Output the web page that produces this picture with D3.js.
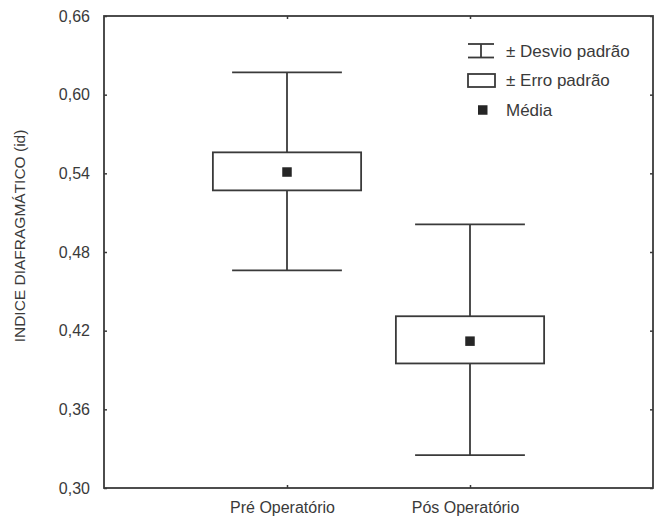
<html>
<script src='https://d3js.org/d3.v7.min.js'></script>
<style>
body {margin:0; background:#fff;}
text {font-family: 'Liberation Sans', Arial, sans-serif; fill:#3a3a3a;}
.frame, .whisker, .box {fill:none; stroke:#3a3a3a; stroke-width:1.8;}
.box {fill:#fff;}
.mean {fill:#262626;}
.axis path {display:none;}
.axis line {stroke:#3a3a3a; stroke-width:1.5;}
</style>
<body onload='init()'>
<svg width=662 height=516></svg>
<script>
const categories = ['Pré Operatório', 'Pós Operatório'];
const means  = [0.541, 0.412];
const seLow  = [0.527, 0.395];
const seHigh = [0.556, 0.431];
const sdLow  = [0.466, 0.325];
const sdHigh = [0.617, 0.501];
const yTicks = [0.30, 0.36, 0.42, 0.48, 0.54, 0.60, 0.66];
const legendLabels = ['± Desvio padrão', '± Erro padrão', 'Média'];

function init() {
var margin = {top:16, right:9, bottom:28, left:104};
var w = 662 - margin.left - margin.right;
var h = 516 - margin.top - margin.bottom;

var xs = d3.scalePoint().domain(categories).range([0,w]).padding(1);
var ys = d3.scaleLinear().domain([0.30,0.66]).range([h,0]);
var fmt = function(d) { return d3.format('.2f')(d).replace('.', ','); };

var data = categories.map(function(c,i) {
  return {cat:c, mean:means[i], seLow:seLow[i], seHigh:seHigh[i], sdLow:sdLow[i], sdHigh:sdHigh[i]};
});

var svg = d3.select('svg');
var g = svg.append('g').attr('transform','translate('+margin.left+','+margin.top+')');

// axes (ticks point inwards)
g.append('g').attr('class','axis')
  .call(d3.axisLeft(ys).tickValues(yTicks).tickFormat(fmt).tickSizeInner(-3).tickSizeOuter(0).tickPadding(14))
  .selectAll('text').style('font-size','16px');
g.append('g').attr('class','axis').attr('transform','translate('+w+',0)')
  .call(d3.axisRight(ys).tickValues(yTicks).tickFormat('').tickSizeInner(-3).tickSizeOuter(0));
g.append('g').attr('class','axis').attr('transform','translate(0,'+h+')')
  .call(d3.axisBottom(xs).tickSizeInner(-3).tickSizeOuter(0).tickPadding(14))
  .selectAll('text').style('font-size','16px').attr('dx','-5');
g.append('g').attr('class','axis')
  .call(d3.axisTop(xs).tickFormat('').tickSizeInner(-3).tickSizeOuter(0));

g.append('rect').attr('class','frame').attr('width',w).attr('height',h);

svg.append('text')
  .attr('transform','translate(20,'+(margin.top+220)+') rotate(-90)')
  .attr('text-anchor','middle').attr('dy','0.35em')
  .style('font-size','15.5px')
  .text('INDICE DIAFRAGMÁTICO (id)');

var step = xs.step();
var boxW = step*0.81, capW = step*0.6, sq = 9.5;

var grp = g.selectAll('.grp').data(data).enter().append('g').attr('class','grp');
grp.append('line').attr('class','whisker')
  .attr('x1',function(d){return xs(d.cat);}).attr('x2',function(d){return xs(d.cat);})
  .attr('y1',function(d){return ys(d.sdLow);}).attr('y2',function(d){return ys(d.sdHigh);});
grp.append('line').attr('class','whisker')
  .attr('x1',function(d){return xs(d.cat)-capW/2;}).attr('x2',function(d){return xs(d.cat)+capW/2;})
  .attr('y1',function(d){return ys(d.sdHigh);}).attr('y2',function(d){return ys(d.sdHigh);});
grp.append('line').attr('class','whisker')
  .attr('x1',function(d){return xs(d.cat)-capW/2;}).attr('x2',function(d){return xs(d.cat)+capW/2;})
  .attr('y1',function(d){return ys(d.sdLow);}).attr('y2',function(d){return ys(d.sdLow);});
grp.append('rect').attr('class','box')
  .attr('x',function(d){return xs(d.cat)-boxW/2;}).attr('width',boxW)
  .attr('y',function(d){return ys(d.seHigh);})
  .attr('height',function(d){return ys(d.seLow)-ys(d.seHigh);});
grp.append('rect').attr('class','mean')
  .attr('x',function(d){return xs(d.cat)-sq/2;}).attr('y',function(d){return ys(d.mean)-sq/2;})
  .attr('width',sq).attr('height',sq);

// legend
var lg = svg.append('g').attr('transform','translate(468,51)');
var rowH = 29.5;
var sym = lg.append('g');
sym.append('line').attr('class','whisker').attr('x1',0).attr('x2',26).attr('y1',-7).attr('y2',-7);
sym.append('line').attr('class','whisker').attr('x1',0).attr('x2',26).attr('y1',6.5).attr('y2',6.5);
sym.append('line').attr('class','whisker').attr('x1',13).attr('x2',13).attr('y1',-7).attr('y2',6.5);
lg.append('rect').attr('class','box').attr('x',0).attr('y',rowH-6.5).attr('width',27).attr('height',13);
lg.append('rect').attr('class','mean').attr('x',10).attr('y',2*rowH-4.75).attr('width',sq).attr('height',sq);
lg.selectAll('.lt').data(legendLabels).enter().append('text')
  .attr('x',38).attr('y',function(d,i){return i*rowH;})
  .attr('dy','0.35em').style('font-size','17px')
  .text(function(d){return d;});
}
</script>
</body>
</html>
